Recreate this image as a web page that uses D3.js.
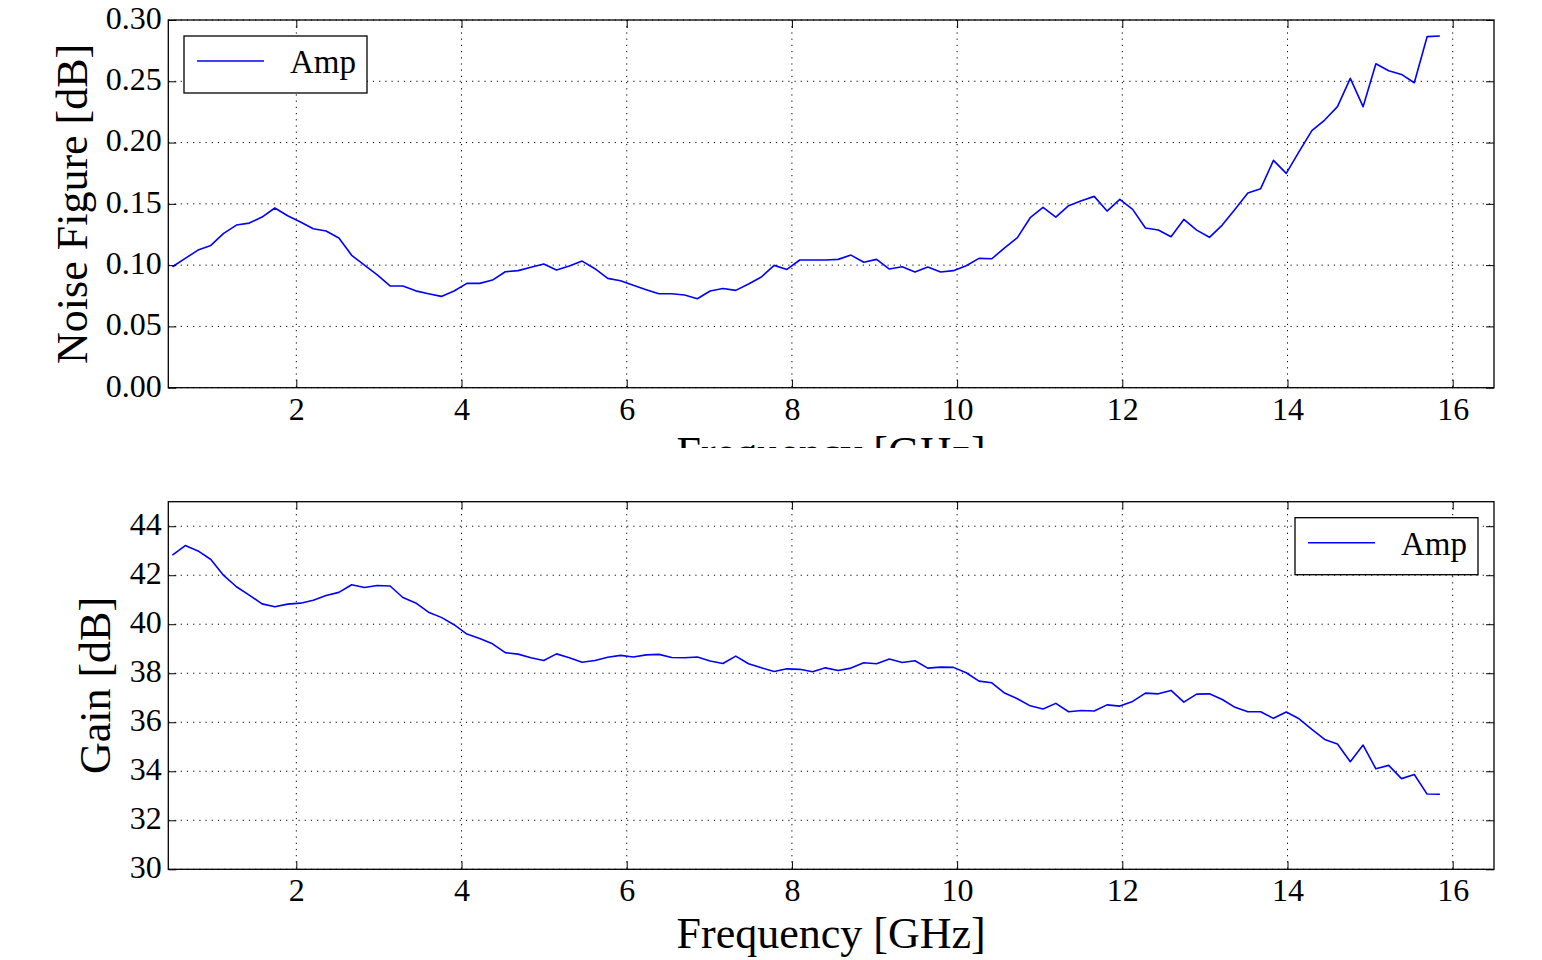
<!DOCTYPE html>
<html>
<head>
<meta charset="utf-8">
<script src="https://cdn.jsdelivr.net/npm/d3@7"></script>
<style>
  html, body { margin: 0; padding: 0; background: #fff; }
  svg { display: block; }
  text { font-family: "Liberation Serif", "Times New Roman", serif; fill: #000; }
</style>
</head>
<body>
<svg id="chart" width="1542" height="960"></svg>
<script>
// ---------------- data ----------------
const frequency = [
  0.5, 0.655, 0.81, 0.965, 1.12, 1.275, 1.43, 1.585, 1.74, 1.895,
  2.05, 2.205, 2.36, 2.515, 2.67, 2.825, 2.98, 3.135, 3.29, 3.445,
  3.6, 3.755, 3.91, 4.065, 4.22, 4.375, 4.53, 4.685, 4.84, 4.995,
  5.15, 5.305, 5.46, 5.615, 5.77, 5.925, 6.08, 6.235, 6.39, 6.545,
  6.7, 6.855, 7.01, 7.165, 7.32, 7.475, 7.63, 7.785, 7.94, 8.095,
  8.25, 8.405, 8.56, 8.715, 8.87, 9.025, 9.18, 9.335, 9.49, 9.645,
  9.8, 9.955, 10.11, 10.265, 10.42, 10.575, 10.73, 10.885, 11.04, 11.195,
  11.35, 11.505, 11.66, 11.815, 11.97, 12.125, 12.28, 12.435, 12.59, 12.745,
  12.9, 13.055, 13.21, 13.365, 13.52, 13.675, 13.83, 13.985, 14.14, 14.295,
  14.45, 14.605, 14.76, 14.915, 15.07, 15.225, 15.38, 15.535, 15.69, 15.845
];

const noiseFigure = [
  0.0987, 0.1055, 0.1123, 0.1161, 0.1259, 0.1327, 0.1343, 0.1392, 0.1466, 0.1403,
  0.1352, 0.1297, 0.1278, 0.1221, 0.1080, 0.1000, 0.0920, 0.0830, 0.0830, 0.0790,
  0.0767, 0.0745, 0.0789, 0.0851, 0.0851, 0.0878, 0.0946, 0.0955, 0.0982, 0.1009,
  0.0960, 0.0993, 0.1033, 0.0971, 0.0892, 0.0873, 0.0835, 0.0800, 0.0767, 0.0767,
  0.0756, 0.0726, 0.0789, 0.0810, 0.0794, 0.0846, 0.0903, 0.0998, 0.0965, 0.1042,
  0.1042, 0.1042, 0.1047, 0.1082, 0.1023, 0.1047, 0.0968, 0.0987, 0.0944, 0.0985,
  0.0944, 0.0955, 0.0995, 0.1055, 0.1052, 0.1140, 0.1224, 0.1387, 0.1471, 0.1392,
  0.1485, 0.1526, 0.1561, 0.1441, 0.1537, 0.1455, 0.1303, 0.1286, 0.1232, 0.1373,
  0.1286, 0.1227, 0.1327, 0.1455, 0.1588, 0.1624, 0.1855, 0.1749, 0.1926, 0.2097,
  0.2184, 0.2293, 0.2524, 0.2293, 0.2643, 0.2586, 0.2556, 0.2488, 0.2864, 0.2869
];

const gain = [
  42.82, 43.21, 42.99, 42.64, 41.99, 41.53, 41.19, 40.83, 40.71, 40.82,
  40.86, 40.98, 41.17, 41.30, 41.61, 41.50, 41.58, 41.56, 41.09, 40.87,
  40.49, 40.28, 39.98, 39.60, 39.42, 39.20, 38.84, 38.78, 38.63, 38.52,
  38.79, 38.63, 38.45, 38.52, 38.65, 38.73, 38.66, 38.75, 38.77, 38.64,
  38.63, 38.66, 38.50, 38.40, 38.70, 38.39, 38.22, 38.07, 38.18, 38.16,
  38.06, 38.22, 38.11, 38.21, 38.43, 38.39, 38.58, 38.44, 38.51, 38.21,
  38.25, 38.24, 38.02, 37.68, 37.61, 37.19, 36.96, 36.67, 36.54, 36.77,
  36.43, 36.48, 36.46, 36.71, 36.66, 36.85, 37.19, 37.16, 37.30, 36.82,
  37.15, 37.16, 36.93, 36.61, 36.43, 36.43, 36.16, 36.42, 36.14, 35.71,
  35.30, 35.11, 34.39, 35.07, 34.10, 34.24, 33.70, 33.87, 33.07, 33.06
];

const xTicks = [2, 4, 6, 8, 10, 12, 14, 16];
const nfTicks = [0.00, 0.05, 0.10, 0.15, 0.20, 0.25, 0.30];
const gainTicks = [30, 32, 34, 36, 38, 40, 42, 44];
const seriesName = "Amp";
const xLabel = "Frequency [GHz]";
const nfLabel = "Noise Figure [dB]";
const gainLabel = "Gain [dB]";

// ---------------- drawing ----------------
const svg = d3.select("#chart");
const left = 168.3, right = 1494;
const x = d3.scaleLinear().domain([0.45, 16.5]).range([left, right]);

function panel(cfg) {
  const { top, bottom, yDomain, yTicks, yFmt, values, yLabel, yLabelX, legend, clipXLabelAt } = cfg;
  const y = d3.scaleLinear().domain(yDomain).range([bottom, top]);
  const g = svg.append("g");

  // grid
  g.append("g").selectAll("line").data(xTicks.filter(t => t > x.domain()[0] && t < x.domain()[1]))
    .join("line")
    .attr("x1", d => x(d)).attr("x2", d => x(d))
    .attr("y1", top).attr("y2", bottom)
    .attr("stroke", "#000").attr("stroke-width", 1).attr("stroke-dasharray", "1.2,5");
  g.append("g").selectAll("line").data(yTicks)
    .join("line")
    .attr("x1", left).attr("x2", right)
    .attr("y1", d => y(d)).attr("y2", d => y(d))
    .attr("stroke", "#000").attr("stroke-width", 1).attr("stroke-dasharray", "1.2,5");

  // line
  const line = d3.line().x((d, i) => x(frequency[i])).y(d => y(d));
  g.append("path").datum(values)
    .attr("d", line)
    .attr("fill", "none")
    .attr("stroke", "#0000ff")
    .attr("stroke-width", 1.6)
    .attr("stroke-linejoin", "round");

  // axes (inward ticks on all four sides)
  const axB = g.append("g").attr("transform", `translate(0,${bottom})`)
    .call(d3.axisBottom(x).tickValues(xTicks).tickSize(-8).tickFormat(d3.format("d")));
  axB.selectAll("text").attr("y", 32).attr("dy", 0).style("font-size", "32px");
  const axT = g.append("g").attr("transform", `translate(0,${top})`)
    .call(d3.axisTop(x).tickValues(xTicks).tickSize(-8).tickFormat(""));
  const axL = g.append("g").attr("transform", `translate(${left},0)`)
    .call(d3.axisLeft(y).tickValues(yTicks).tickSize(-8).tickFormat(yFmt));
  axL.selectAll("text").attr("x", -6.5).attr("dy", "0.26em").style("font-size", "32px");
  const axR = g.append("g").attr("transform", `translate(${right},0)`)
    .call(d3.axisRight(y).tickValues(yTicks).tickSize(-8).tickFormat(""));
  [axB, axT, axL, axR].forEach(a => {
    a.select(".domain").remove();
    a.selectAll(".tick line").attr("stroke", "#000").attr("stroke-width", 1);
    a.selectAll("text").attr("font-family", null);
  });

  // frame
  g.append("rect").attr("x", left).attr("y", top)
    .attr("width", right - left).attr("height", bottom - top)
    .attr("fill", "none").attr("stroke", "#000").attr("stroke-width", 1.3);

  // x label
  const xl = g.append("text")
    .attr("x", (left + right) / 2).attr("y", bottom + 79)
    .attr("text-anchor", "middle").style("font-size", "44px").text(xLabel);
  if (clipXLabelAt) {
    const id = "clip" + Math.round(top);
    svg.append("clipPath").attr("id", id).append("rect")
      .attr("x", 0).attr("y", 0).attr("width", 1542).attr("height", clipXLabelAt);
    xl.attr("clip-path", `url(#${id})`);
  }

  // y label
  g.append("text")
    .attr("transform", `translate(${yLabelX},${(top + bottom) / 2}) rotate(-90)`)
    .attr("text-anchor", "middle").style("font-size", "44px").text(yLabel);

  // legend
  const lg = g.append("g");
  lg.append("rect").attr("x", legend.x).attr("y", legend.y)
    .attr("width", 183).attr("height", 57)
    .attr("fill", "#fff").attr("stroke", "#000").attr("stroke-width", 1.3);
  lg.append("line")
    .attr("x1", legend.x + 13).attr("x2", legend.x + 80)
    .attr("y1", legend.y + 25).attr("y2", legend.y + 25)
    .attr("stroke", "#0000ff").attr("stroke-width", 1.5);
  lg.append("text").attr("x", legend.x + 106).attr("y", legend.y + 37)
    .style("font-size", "33px").text(seriesName);
}

panel({
  top: 20, bottom: 387.7, yDomain: [0, 0.30], yTicks: nfTicks, yFmt: d3.format(".2f"),
  values: noiseFigure, yLabel: nfLabel, yLabelX: 87.3,
  legend: { x: 184, y: 36 }, clipXLabelAt: 448
});
panel({
  top: 501.7, bottom: 869.3, yDomain: [30, 45], yTicks: gainTicks, yFmt: d3.format("d"),
  values: gain, yLabel: gainLabel, yLabelX: 110,
  legend: { x: 1295, y: 517.7 }, clipXLabelAt: null
});
</script>
</body>
</html>
